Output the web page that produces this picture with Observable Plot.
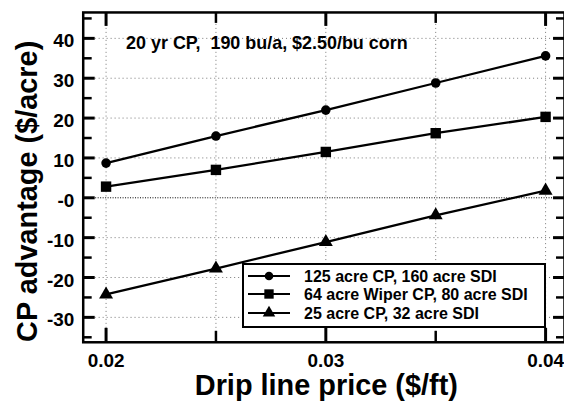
<!DOCTYPE html>
<html>
<head>
<meta charset="utf-8">
<script src="https://cdn.jsdelivr.net/npm/d3@7"></script>
<script src="https://cdn.jsdelivr.net/npm/@observablehq/plot@0.6"></script>
<style>
  html, body { margin: 0; padding: 0; background: white; overflow: hidden; }
  #wrap { position: relative; width: 564px; height: 403px; overflow: hidden; }
  #legend { position: absolute; left: 242px; top: 263px; }
</style>
</head>
<body>
<div id="wrap"></div>
<script>
// ---- data ----
const xValues = [0.02, 0.025, 0.03, 0.035, 0.04];
const seriesNames = ["125 acre CP, 160 acre SDI", "64 acre Wiper CP, 80 acre SDI", "25 acre CP, 32 acre SDI"];
const cp125 = [8.7, 15.5, 22.0, 28.8, 35.6];
const cp64 = [2.8, 7.0, 11.5, 16.2, 20.3];
const cp25 = [-24.25, -17.75, -11.1, -4.4, 1.8];
const seriesSymbols = ["circle", "square", "triangle"];

const xMajorTicks = [0.02, 0.03, 0.04];
const xMinorTicks = [0.025, 0.035];
const xTickLabels = ["0.02", "0.03", "0.04"];
const yMajorTicks = [40, 30, 20, 10, 0, -10, -20, -30];
const yMinorTicks = [45, 35, 25, 15, 5, -5, -15, -25, -35];
const yTickLabels = ["40", "30", "20", "10", "-0", "-10", "-20", "-30"];
const xGrid = [0.02, 0.025, 0.03, 0.035, 0.04];
const yGrid = [40, 30, 20, 10, -10, -20, -30];
const annotation = ["20 yr CP,\u00A0 190 bu/a, $2.50/bu corn"];
const xTitle = ["Drip line price ($/ft)"];
const yTitle = ["CP advantage ($/acre)"];

const allSeries = [cp125, cp64, cp25];
const data = allSeries.flatMap((vals, s) => vals.map((v, i) => ({x: xValues[i], y: v, series: seriesNames[s]})));

const font = "'Liberation Sans', Arial, Helvetica, sans-serif";

const W = 566, H = 403, mL = 83, mR = 0, mT = 12, mB = 60;
const fw = W - mL - mR, fh = H - mT - mB;

const plot = Plot.plot({
  width: W,
  height: H,
  marginLeft: mL,
  marginRight: mR,
  marginTop: mT,
  marginBottom: mB,
  style: {fontFamily: font, background: "white", overflow: "visible"},
  x: {domain: [0.01896, 0.04086]},
  y: {domain: [-36.25, 46.5]},
  symbol: {domain: seriesNames, range: seriesSymbols},
  marks: [
    Plot.gridX(xGrid, {stroke: "#777", strokeOpacity: 1, strokeDasharray: "1,3"}),
    Plot.gridY(yGrid, {stroke: "#777", strokeOpacity: 1, strokeDasharray: "1,3"}),
    Plot.ruleY([0], {stroke: "#000", strokeDasharray: "1,1.5", strokeWidth: 1}),
    // inward ticks: rules trimmed by insets
    Plot.ruleX(xMajorTicks, {insetTop: fh - 14, stroke: "black", strokeWidth: 3}),
    Plot.ruleX(xMinorTicks, {insetTop: fh - 11, stroke: "black", strokeWidth: 2.5}),
    Plot.ruleX(xMajorTicks, {insetBottom: fh - 14, stroke: "black", strokeWidth: 3}),
    Plot.ruleX(xMinorTicks, {insetBottom: fh - 11, stroke: "black", strokeWidth: 2.5}),
    Plot.ruleY(yMajorTicks, {insetRight: fw - 12, stroke: "black", strokeWidth: 3}),
    Plot.ruleY(yMinorTicks, {insetRight: fw - 9, stroke: "black", strokeWidth: 2.5}),
    Plot.ruleY(yMajorTicks, {insetLeft: fw - 11, stroke: "black", strokeWidth: 3}),
    Plot.ruleY(yMinorTicks, {insetLeft: fw - 8, stroke: "black", strokeWidth: 2.5}),
    // tick labels
    Plot.axisX(xMajorTicks, {anchor: "bottom", tickSize: 0, tickPadding: 11, label: null,
      tickFormat: d => xTickLabels[xMajorTicks.indexOf(d)], fontSize: 19, fontWeight: "bold", fill: "black"}),
    Plot.axisY(yMajorTicks, {anchor: "left", tickSize: 0, tickPadding: 9, label: null, dy: 3,
      tickFormat: d => yTickLabels[yMajorTicks.indexOf(d)], fontSize: 19, fontWeight: "bold", fill: "black"}),
    // data
    Plot.line(data, {x: "x", y: "y", z: "series", stroke: "black", strokeWidth: 2.3}),
    Plot.dot(data.filter(d => d.series === seriesNames[0]), {x: "x", y: "y", symbol: "series", fill: "black", r: 4.8}),
    Plot.dot(data.filter(d => d.series === seriesNames[1]), {x: "x", y: "y", symbol: "series", fill: "black", r: 5.9}),
    Plot.dot(data.filter(d => d.series === seriesNames[2]), {x: "x", y: "y", symbol: "series", fill: "black", r: 5.2}),
    // annotation & titles
    Plot.text(annotation, {frameAnchor: "top-left", textAnchor: "start", lineAnchor: "top", dx: 43, dy: 24,
      fontSize: 18, fontWeight: "bold", fill: "black"}),
    Plot.text(xTitle, {frameAnchor: "bottom", textAnchor: "middle", lineAnchor: "middle", dx: 2.5, dy: 43.5,
      fontSize: 29, fontWeight: "bold", fill: "black"}),
    Plot.text(yTitle, {frameAnchor: "left", textAnchor: "middle", lineAnchor: "middle", rotate: -90, dx: -55.5, dy: 14,
      fontSize: 29, fontWeight: "bold", fill: "black"}),
    Plot.frame({stroke: "black", strokeWidth: 2.5})
  ]
});

const wrap = document.getElementById("wrap");
wrap.appendChild(plot);

// ---- legend (HTML/SVG overlay) ----
const legW = 304, legH = 65;
const leg = d3.create("svg").attr("id", "legend").attr("width", legW).attr("height", legH)
  .style("font-family", font);
leg.append("rect").attr("x", 1).attr("y", 1).attr("width", legW - 2).attr("height", legH - 2)
  .attr("fill", "white").attr("stroke", "black").attr("stroke-width", 2);
const rowY = [13, 31, 50];
const legSizes = [4.8, 5.9, 5.2];
const symMap = {circle: d3.symbolCircle, square: d3.symbolSquare, triangle: d3.symbolTriangle};
seriesNames.forEach((name, i) => {
  const g = leg.append("g").attr("transform", `translate(0,${rowY[i]})`);
  g.append("line").attr("x1", 6).attr("x2", 48).attr("y1", 0).attr("y2", 0)
    .attr("stroke", "black").attr("stroke-width", 2);
  g.append("path").attr("transform", "translate(27,0)")
    .attr("d", d3.symbol(symMap[seriesSymbols[i]], Math.PI * legSizes[i] * legSizes[i] * 0.8)())
    .attr("fill", "black");
  g.append("text").attr("x", 62).attr("y", 0).attr("dy", "0.35em")
    .attr("font-size", 16).attr("font-weight", "bold").attr("fill", "black").text(name);
});
wrap.appendChild(leg.node());
</script>
</body>
</html>
